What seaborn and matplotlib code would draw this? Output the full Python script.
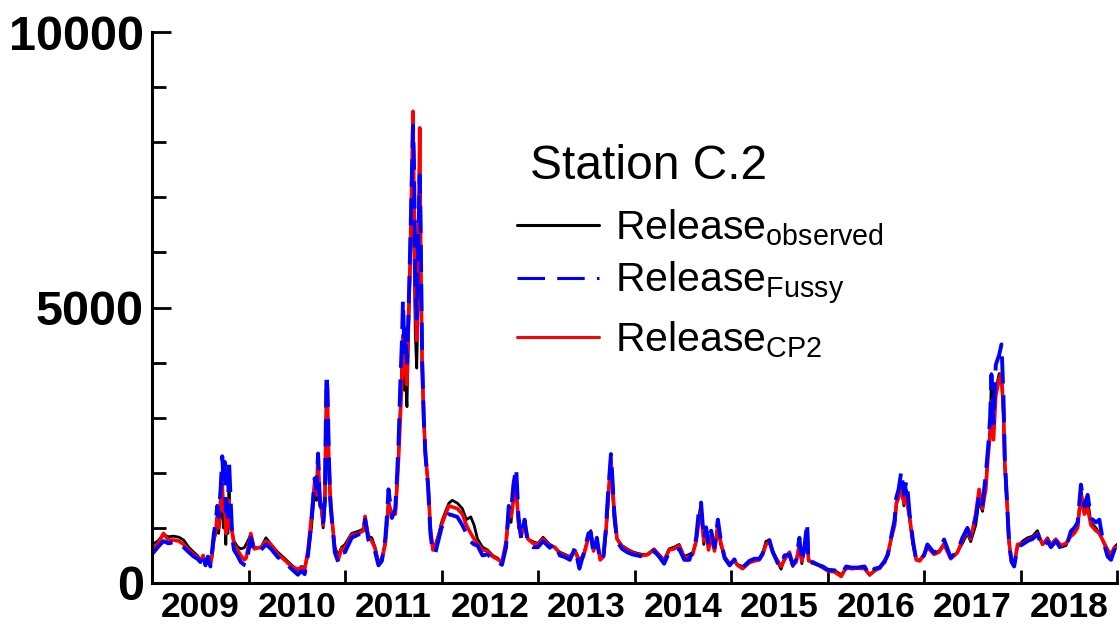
import numpy as np
import pandas as pd
import seaborn as sns
import matplotlib
matplotlib.use("Agg")
import matplotlib.pyplot as plt
from matplotlib.ticker import MultipleLocator, FixedLocator, FixedFormatter

# ---------------- data (decimal years, release values) ----------------
t_years = [
    2009.00, 2009.06, 2009.118, 2009.17, 2009.223, 2009.28, 2009.328, 2009.38, 2009.432, 2009.47,
    2009.502, 2009.53, 2009.554, 2009.58, 2009.606, 2009.625, 2009.641, 2009.66, 2009.676, 2009.69,
    2009.711, 2009.728, 2009.74, 2009.753, 2009.765, 2009.774, 2009.786, 2009.798, 2009.815, 2009.833,
    2009.85, 2009.885, 2009.92, 2009.955, 2009.975,
    2010.024, 2010.059, 2010.129, 2010.181, 2010.233, 2010.303, 2010.373, 2010.443, 2010.512, 2010.547,
    2010.582, 2010.617, 2010.652, 2010.686, 2010.704, 2010.721, 2010.739, 2010.756, 2010.774, 2010.791,
    2010.808, 2010.819, 2010.833, 2010.847, 2010.861, 2010.895, 2010.930, 2010.965,
    2011.00, 2011.069, 2011.139, 2011.191, 2011.208, 2011.243, 2011.278, 2011.313, 2011.347, 2011.382,
    2011.417, 2011.434, 2011.451, 2011.486, 2011.521, 2011.538, 2011.556, 2011.573, 2011.590, 2011.601,
    2011.615, 2011.625, 2011.642, 2011.660, 2011.677, 2011.688, 2011.705, 2011.715, 2011.729, 2011.743,
    2011.757, 2011.774, 2011.785, 2011.799, 2011.816, 2011.833, 2011.861, 2011.885, 2011.910, 2011.938,
    2011.972,
    2012.00, 2012.042, 2012.077, 2012.112, 2012.164, 2012.216, 2012.258, 2012.303, 2012.338, 2012.373,
    2012.425, 2012.477, 2012.530, 2012.582, 2012.627, 2012.669, 2012.697, 2012.721, 2012.746, 2012.774,
    2012.798, 2012.826, 2012.861, 2012.895, 2012.948,
    2013.00, 2013.052, 2013.122, 2013.174, 2013.226, 2013.279, 2013.331, 2013.383, 2013.429, 2013.470,
    2013.523, 2013.547, 2013.575, 2013.610, 2013.645, 2013.679, 2013.704, 2013.725, 2013.742, 2013.756,
    2013.774, 2013.791, 2013.819, 2013.871, 2013.923, 2013.976,
    2014.028, 2014.080, 2014.132, 2014.202, 2014.254, 2014.307, 2014.359, 2014.411, 2014.463, 2014.516,
    2014.568, 2014.603, 2014.638, 2014.666, 2014.690, 2014.718, 2014.742, 2014.767, 2014.794, 2014.829,
    2014.864, 2014.892, 2014.934, 2014.986,
    2015.035, 2015.069, 2015.121, 2015.190, 2015.242, 2015.294, 2015.329, 2015.363, 2015.398, 2015.433,
    2015.484, 2015.519, 2015.554, 2015.606, 2015.640, 2015.675, 2015.709, 2015.734, 2015.761, 2015.789,
    2015.803, 2015.848, 2015.900, 2015.952,
    2016.003, 2016.073, 2016.142, 2016.194, 2016.246, 2016.315, 2016.384, 2016.436, 2016.488, 2016.540,
    2016.592, 2016.626, 2016.661, 2016.696, 2016.713, 2016.737, 2016.765, 2016.792, 2016.817, 2016.834,
    2016.851, 2016.886, 2016.920, 2016.955,
    2017.00, 2017.035, 2017.104, 2017.156, 2017.208, 2017.277, 2017.346, 2017.398, 2017.450, 2017.484,
    2017.536, 2017.571, 2017.606, 2017.640, 2017.664, 2017.685, 2017.699, 2017.720, 2017.744, 2017.779,
    2017.803, 2017.824, 2017.837, 2017.858, 2017.882, 2017.907, 2017.934, 2017.969,
    2018.021, 2018.073, 2018.125, 2018.176, 2018.228, 2018.280, 2018.315, 2018.367, 2018.419, 2018.471,
    2018.522, 2018.557, 2018.592, 2018.626, 2018.661, 2018.696, 2018.730, 2018.782, 2018.817, 2018.851,
    2018.903, 2018.938, 2018.972, 2019.00,
]

release_observed = [
    700, 760, 880, 840, 850, 830, 780, 650, 560, 500,
    420, 470, 380, 430, 350, 500, 760, 900, 1100, 900,
    1300, 1400, 1000, 1200, 700, 1200, 900, 1700, 1000, 900,
    760, 660, 620, 640, 700,
    880, 640, 640, 820, 700, 560, 450, 330, 230, 300,
    280, 500, 1000, 1700, 1500, 2200, 1600, 1300, 1000, 1400,
    3300, 3000, 2000, 1500, 1200, 650, 500, 650,
    700, 900, 940, 980, 1200, 850, 820, 640, 380, 450,
    750, 1100, 1500, 1200, 1300, 1800, 2400, 3200, 4000, 4200,
    3500, 3800, 3200, 4700, 5800, 6500, 7400, 6000, 4500, 3900,
    5000, 6900, 5600, 3900, 3000, 2300, 1800, 950, 650, 700,
    900,
    1100, 1300, 1450, 1500, 1450, 1350, 1150, 1200, 1050, 800,
    650, 600, 500, 450, 350, 700, 1200, 1100, 1600, 1800,
    1000, 900, 1050, 800, 750,
    720, 830, 700, 640, 560, 520, 480, 600, 420, 500,
    850, 950, 600, 780, 450, 520, 900, 1400, 1900, 2200,
    1600, 1100, 800, 680, 620, 570,
    540, 520, 520, 620, 520, 420, 620, 650, 700, 480,
    520, 550, 760, 1200, 1450, 700, 1000, 650, 900, 600,
    1100, 700, 480, 340,
    420, 330, 300, 380, 420, 430, 550, 760, 760, 580,
    380, 250, 450, 500, 300, 400, 700, 350, 600, 900,
    400, 370, 340, 270,
    230, 230, 150, 260, 280, 260, 280, 140, 230, 260,
    380, 500, 800, 1100, 1400, 1600, 1800, 1400, 1700, 1400,
    1150, 700, 420, 420,
    520, 650, 550, 580, 720, 450, 560, 720, 900, 750,
    1050, 1500, 1300, 1800, 2400, 2800, 3800, 2700, 3500, 3800,
    3700, 3000, 2100, 1500, 700, 400, 350, 650,
    760, 820, 850, 950, 700, 820, 700, 800, 650, 680,
    900, 950, 1000, 1700, 1300, 1500, 1100, 1000, 900, 780,
    550, 480, 650, 700,
]

release_fussy = [
    520, 650, 760, 720, 740, 720, 650, 560, 480, 440,
    380, 550, 320, 480, 300, 620, 900, 1100, 1400, 1200,
    1700, 2300, 1900, 2200, 1300, 1600, 1200, 2250, 1500, 800,
    600, 500, 380, 330, 320,
    820, 560, 600, 700, 620, 470, 380, 260, 150, 220,
    160, 520, 1100, 1900, 1700, 2350, 1500, 1350, 1100, 1500,
    3790, 3500, 2300, 1500, 1200, 550, 380, 550,
    560, 820, 880, 900, 1150, 780, 700, 560, 320, 400,
    800, 1200, 1700, 1180, 1350, 1900, 2600, 3600, 4400, 5130,
    4200, 4600, 4000, 5000, 6200, 7000, 8300, 7600, 5600, 4800,
    6000, 7400, 6300, 4100, 3000, 2350, 1750, 900, 550, 560,
    800,
    1000, 1150, 1250, 1230, 1200, 1050, 900, 750, 700, 680,
    500, 520, 440, 380, 330, 650, 1400, 1300, 1800, 2090,
    1200, 800, 1150, 700, 650,
    650, 760, 640, 720, 500, 470, 420, 640, 260, 520,
    900, 920, 520, 820, 400, 500, 1000, 1600, 2000, 2340,
    1800, 1250, 750, 620, 560, 520,
    500, 480, 500, 580, 480, 350, 560, 600, 620, 420,
    420, 600, 800, 1300, 1460, 800, 1010, 700, 950, 650,
    1150, 800, 450, 320,
    430, 300, 280, 400, 440, 440, 540, 720, 780, 560,
    360, 300, 500, 520, 330, 420, 820, 380, 650, 1095,
    350, 380, 330, 300,
    240, 230, 160, 300, 280, 280, 300, 140, 260, 280,
    400, 520, 850, 1150, 1550, 1700, 2030, 1600, 1850, 1600,
    1250, 760, 400, 420,
    500, 700, 550, 600, 790, 460, 580, 820, 1000, 850,
    1180, 1600, 1420, 1970, 2450, 3000, 3780, 2900, 3960, 4140,
    4330, 3360, 2270, 1540, 700, 390, 300, 650,
    700, 760, 800, 880, 650, 760, 650, 760, 620, 640,
    940, 1000, 1100, 1785, 1400, 1600, 1180, 1100, 1150, 800,
    480, 420, 600, 580,
]

release_cp2 = [
    640, 700, 900, 780, 780, 760, 700, 600, 520, 470,
    400, 500, 350, 450, 330, 560, 800, 950, 1200, 1000,
    1500, 1800, 1300, 1500, 900, 1300, 1000, 1500, 1100, 900,
    700, 600, 500, 420, 450,
    900, 620, 650, 760, 700, 520, 420, 300, 250, 280,
    250, 600, 1200, 1850, 1600, 2330, 1400, 1400, 1050, 1500,
    3500, 3300, 2200, 1600, 1250, 600, 420, 620,
    640, 870, 900, 950, 1210, 820, 760, 620, 350, 430,
    700, 1050, 1450, 1250, 1250, 1700, 2300, 3000, 3700, 4500,
    3800, 4100, 3600, 4900, 6000, 7000, 8560, 7000, 5200, 4400,
    5500, 8260, 6000, 4000, 3000, 2350, 1800, 1000, 600, 680,
    850,
    1050, 1250, 1400, 1380, 1350, 1250, 1050, 900, 800, 720,
    600, 580, 480, 430, 380, 750, 1300, 1200, 1500, 1700,
    1100, 850, 1100, 800, 720,
    700, 800, 680, 650, 540, 500, 460, 580, 380, 480,
    820, 900, 580, 750, 420, 480, 950, 1500, 1900, 2250,
    1700, 1300, 800, 660, 600, 550,
    520, 500, 510, 600, 500, 400, 600, 620, 680, 450,
    480, 520, 750, 1100, 1300, 760, 950, 600, 850, 580,
    1000, 750, 470, 350,
    400, 320, 260, 370, 400, 420, 520, 700, 740, 560,
    400, 300, 420, 560, 320, 380, 700, 400, 620, 950,
    420, 360, 330, 280,
    220, 200, 120, 280, 260, 270, 260, 150, 220, 280,
    370, 540, 820, 1050, 1450, 1550, 1700, 1450, 1600, 1350,
    1200, 720, 420, 400,
    500, 650, 520, 560, 700, 440, 550, 780, 950, 800,
    1250, 1700, 1350, 1700, 2300, 2700, 3300, 2600, 3400, 3700,
    3800, 3100, 2200, 1550, 750, 380, 320, 700,
    720, 780, 820, 900, 700, 800, 680, 790, 680, 720,
    850, 900, 1000, 1600, 1250, 1350, 1050, 950, 900, 780,
    600, 520, 640, 650,
]

year_labels = ["2009", "2010", "2011", "2012", "2013", "2014", "2015", "2016", "2017", "2018"]
legend_title = "Station C.2"
series_labels = [r"Release$_{\mathregular{observed}}$",
                 r"Release$_{\mathregular{Fussy}}$",
                 r"Release$_{\mathregular{CP2}}$"]

df = pd.DataFrame({"t": t_years, "obs": release_observed,
                   "fussy": release_fussy, "cp2": release_cp2})

# ---------------- style ----------------
sns.set_style("white")
plt.rcParams["font.family"] = ["Liberation Sans", "DejaVu Sans"]
plt.rcParams["mathtext.default"] = "regular"
for k in ["text.color", "axes.labelcolor", "xtick.color", "ytick.color"]:
    plt.rcParams[k] = "black"

fig = plt.figure(figsize=(11.19, 6.28), dpi=100)
ax = fig.add_axes([152 / 1119, 1 - 583 / 628, (1117 - 152) / 1119, (583 - 32) / 628])

sns.lineplot(data=df, x="t", y="obs", ax=ax, color="black", lw=2.0,
             label=series_labels[0], estimator=None, sort=False)
sns.lineplot(data=df, x="t", y="cp2", ax=ax, color="#ff0000", lw=2.6,
             label=series_labels[2], estimator=None, sort=False)
sns.lineplot(data=df, x="t", y="fussy", ax=ax, color="#0000ff", lw=2.8,
             linestyle=(0, (7, 3)), label=series_labels[1],
             estimator=None, sort=False)

ax.set_xlim(2009, 2019)
ax.set_ylim(0, 10000)
ax.set_xlabel("")
ax.set_ylabel("")

for s in ["top", "right"]:
    ax.spines[s].set_visible(False)
for s in ["left", "bottom"]:
    ax.spines[s].set_linewidth(2.2)
    ax.spines[s].set_color("black")

# y ticks
ax.yaxis.set_major_locator(FixedLocator([0, 5000, 10000]))
ax.yaxis.set_minor_locator(MultipleLocator(1000))
ax.tick_params(axis="y", which="major", direction="in", length=14, width=2,
               labelsize=35, pad=6, left=True, colors="black")
ax.tick_params(axis="y", which="minor", direction="in", length=10, width=2, left=True,
               colors="black")
for lab in ax.get_yticklabels():
    lab.set_fontweight("bold")

# x ticks: boundaries as major ticks, year labels centred via minor ticks
ax.xaxis.set_major_locator(FixedLocator(list(range(2009, 2020))))
ax.xaxis.set_major_formatter(FixedFormatter([""] * 11))
ax.xaxis.set_minor_locator(FixedLocator([int(y) + 0.5 for y in year_labels]))
ax.xaxis.set_minor_formatter(FixedFormatter(year_labels))
ax.tick_params(axis="x", which="major", direction="in", length=9.5, width=2, bottom=True,
               colors="black")
ax.tick_params(axis="x", which="minor", length=0, labelsize=25.5, pad=6, bottom=True,
               colors="black")
for lab in ax.xaxis.get_minorticklabels():
    lab.set_fontweight("bold")

# legend title and entries
ax.text(0.3917, 0.755, legend_title, transform=ax.transAxes, fontsize=34.5,
        ha="left", va="center", color="black")

handles, labels = ax.get_legend_handles_labels()
order = [labels.index(l) for l in series_labels]
leg = ax.legend([handles[i] for i in order], [labels[i] for i in order],
                loc="upper left", bbox_to_anchor=(0.378, 0.682),
                frameon=False, fontsize=29.5, handlelength=2.0,
                handletextpad=0.4, labelspacing=0.3, borderpad=0, borderaxespad=0)
for lh in leg.get_lines():
    lh.set_linewidth(2.2)
leg.get_lines()[1].set_linestyle((0, (9, 4)))

fig.savefig("out.png", dpi=100)
